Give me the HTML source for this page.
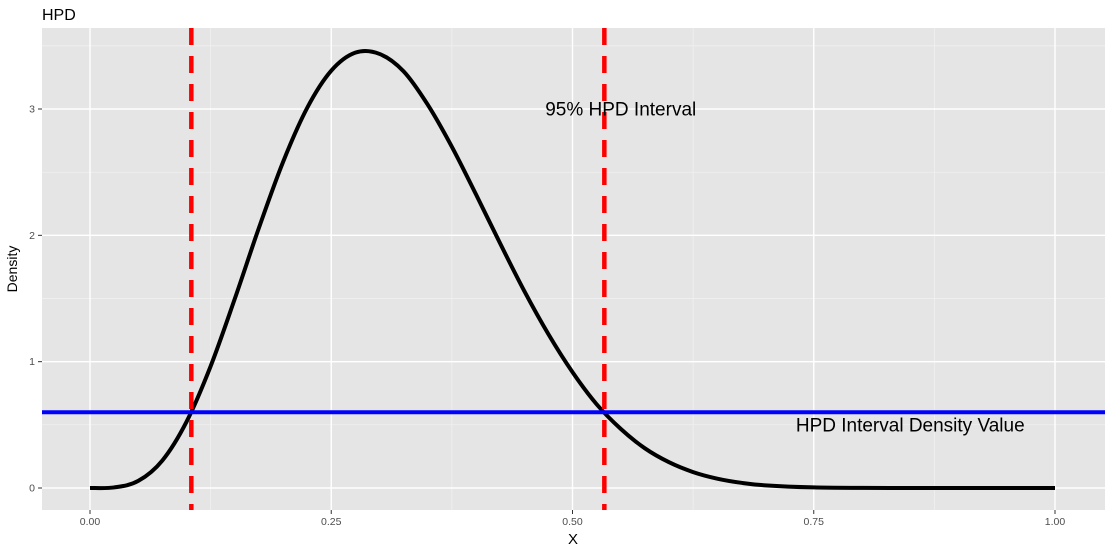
<!DOCTYPE html>
<html><head><meta charset="utf-8"><style>
body{margin:0;background:#fff;}
svg{display:block;font-family:"Liberation Sans",sans-serif;}
</style></head><body>
<svg id="chart" width="1113" height="550">
<text x="42" y="20" font-size="16" fill="#000">HPD</text>
<rect x="42" y="28" width="1063" height="482" fill="#e5e5e5"/>
<g id="grid"></g><g id="marks"></g><g id="axes"></g>
<text x="573" y="544" font-size="15" text-anchor="middle">X</text>
<text transform="translate(17,269) rotate(-90)" font-size="14" text-anchor="middle">Density</text>
</svg>
<script>
const xs=[0,0.025,0.05,0.075,0.1,0.125,0.15,0.175,0.2,0.225,0.25,0.275,0.3,0.325,0.35,0.375,0.4,0.425,0.45,0.475,0.5,0.525,0.55,0.575,0.6,0.625,0.65,0.675,0.7,0.75,0.8,0.85,0.9,0.95,1];
const dens=[0,0.0046,0.056,0.218,0.524,0.964,1.497,2.058,2.580,3.008,3.303,3.446,3.436,3.298,3.034,2.701,2.324,1.936,1.560,1.218,0.917,0.663,0.468,0.314,0.204,0.126,0.074,0.041,0.021,0.0045,0.0006,0,0,0,0];
const hpdBounds=[0.105,0.533];
const hpdDensity=0.6;
const xTicks=[0,0.25,0.5,0.75,1];
const xTickLabels=["0.00","0.25","0.50","0.75","1.00"];
const yTicks=[0,1,2,3];
const annotations=[{x:0.55,y:3,t:"95% HPD Interval"},{x:0.85,y:0.5,t:"HPD Interval Density Value"}];
const X=v=>90+v*965, Y=v=>488-v*126.33;
const L=42,R=1105,T=28,B=510,NS="http://www.w3.org/2000/svg";
function mk(p,tag,a){const e=document.createElementNS(NS,tag);for(const k in a)e.setAttribute(k,a[k]);p.appendChild(e);return e;}
const g=document.getElementById('grid'),m=document.getElementById('marks'),ax=document.getElementById('axes');
for(let i=0;i<xTicks.length-1;i++){const v=(xTicks[i]+xTicks[i+1])/2;const e=mk(g,'line',{x1:X(v),x2:X(v),y1:T,y2:B,stroke:'#f2f2f2','stroke-width':0.7});

}
for(let i=0;i<yTicks.length;i++){const v=yTicks[i]+0.5;const e=mk(g,'line',{x1:L,x2:R,y1:Y(v),y2:Y(v),stroke:'#f2f2f2','stroke-width':0.7});

}
xTicks.forEach((v,i)=>{const e=mk(g,'line',{x1:X(v),x2:X(v),y1:T,y2:B,stroke:'#fff','stroke-width':1.4});


const t=mk(ax,'line',{x1:X(v),x2:X(v),y1:B,y2:B+4,stroke:'#333','stroke-width':1});


const l=mk(ax,'text',{x:X(v),y:B+15,'font-size':10.5,fill:'#4d4d4d','text-anchor':'middle'});l.textContent=xTickLabels[i];

});
yTicks.forEach(v=>{const e=mk(g,'line',{x1:L,x2:R,y1:Y(v),y2:Y(v),stroke:'#fff','stroke-width':1.4});


const t=mk(ax,'line',{x1:L-4,x2:L,y1:Y(v),y2:Y(v),stroke:'#333','stroke-width':1});


const l=mk(ax,'text',{x:L-7,y:Y(v)+3.5,'font-size':10.5,fill:'#4d4d4d','text-anchor':'end'});l.textContent=v;

});
const P=xs.map((x,i)=>[X(x),Y(dens[i])]);
let d='M'+P[0][0]+','+P[0][1];
for(let i=0;i<P.length-1;i++){const p0=P[Math.max(0,i-1)],p1=P[i],p2=P[i+1],p3=P[Math.min(P.length-1,i+2)];
d+=` C${p1[0]+(p2[0]-p0[0])/6},${p1[1]+(p2[1]-p0[1])/6} ${p2[0]-(p3[0]-p1[0])/6},${p2[1]-(p3[1]-p1[1])/6} ${p2[0]},${p2[1]}`;}
const c=mk(m,'path',{d:d,fill:'none',stroke:'#000','stroke-width':4,'stroke-linejoin':'round'});


hpdBounds.forEach(v=>{const e=mk(m,'line',{x1:X(v),x2:X(v),y1:T,y2:B,stroke:'#ff0000','stroke-width':4.5,'stroke-dasharray':'17,11'});

});
const h=mk(m,'line',{x1:L,x2:R,y1:Y(hpdDensity),y2:Y(hpdDensity),stroke:'#0000ff','stroke-width':4});


annotations.forEach(a=>{const t=mk(m,'text',{x:X(a.x),y:Y(a.y)+6.5,'font-size':19,'text-anchor':'middle',fill:'#000'});t.textContent=a.t;

});
</script>
</body></html>
